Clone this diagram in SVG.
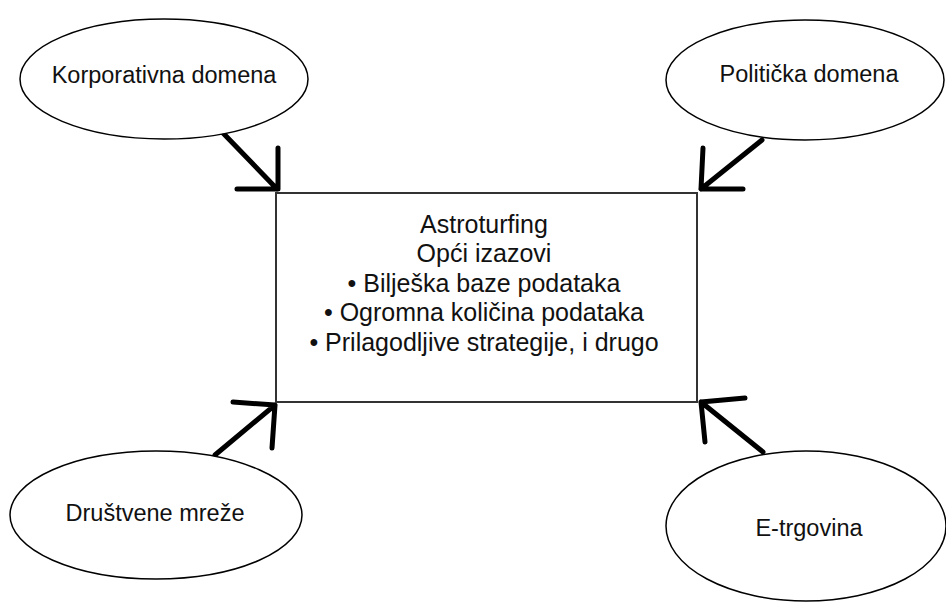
<svg xmlns="http://www.w3.org/2000/svg" width="946" height="602" viewBox="0 0 946 602">
<style>
.n{fill:#fff;stroke:#000;stroke-width:1.5}
.b{fill:#fff;stroke:#333;stroke-width:2}
.t{font-family:"Liberation Sans",Arial,sans-serif;font-size:23.5px;fill:#111;text-anchor:middle}
.m{font-size:25px}
.c{fill:none;stroke:#000;stroke-width:5;stroke-linecap:round;stroke-linejoin:round}
</style>
<rect width="946" height="602" fill="#fff"/>
<g id="connectors">
<path class="c" d="M223,133 L277,189 M278,148 L278,189 L237,189"/>
<path class="c" d="M762,140 L701,189 M703,148 L701,189 L743,189"/>
<path class="c" d="M215,455 L275,405 M233,402 L275,405 L272,448"/>
<path class="c" d="M763,452 L701,402 M745,398 L701,402 L705,442"/>
</g>
<g id="center">
<rect class="b" x="276" y="193" width="421" height="209"/>
<text class="t m" x="484" y="233">Astroturfing</text>
<text class="t m" x="484" y="262">Opći izazovi</text>
<text class="t m" x="484" y="292">• Bilješka baze podataka</text>
<text class="t m" x="484" y="321">• Ogromna količina podataka</text>
<text class="t m" x="484" y="351">• Prilagodljive strategije, i drugo</text>
</g>
<g id="korporativna">
<ellipse class="n" cx="164" cy="79" rx="144" ry="60"/>
<text class="t" x="164" y="83">Korporativna domena</text>
</g>
<g id="politicka">
<ellipse class="n" cx="805" cy="80" rx="139" ry="60"/>
<text class="t" x="809" y="82">Politička domena</text>
</g>
<g id="drustvene">
<ellipse class="n" cx="156" cy="515" rx="146" ry="64"/>
<text class="t" x="155" y="521">Društvene mreže</text>
</g>
<g id="etrgovina">
<ellipse class="n" cx="806" cy="526" rx="140" ry="75"/>
<text class="t" x="809" y="536">E-trgovina</text>
</g>
</svg>
